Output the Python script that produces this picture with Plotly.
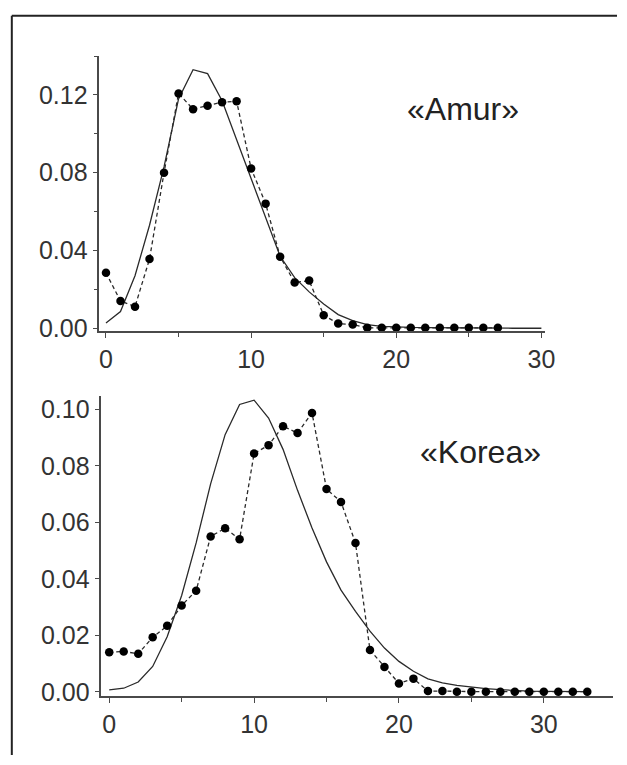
import plotly.graph_objects as go

# ---- data ----
amur_x = list(range(0, 28))
amur_obs = [0.0285, 0.0140, 0.0111, 0.0356, 0.0800, 0.1208, 0.1127, 0.1144, 0.1163, 0.1168,
            0.0822, 0.0641, 0.0368, 0.0235, 0.0245, 0.0067, 0.0024, 0.0019, 0.0002, 0.0002,
            0.0002, 0.0002, 0.0002, 0.0002, 0.0002, 0.0002, 0.0002, 0.0002]
amur_fit_x = list(range(0, 31))
amur_fit = [0.0027, 0.0086, 0.027, 0.053, 0.083, 0.118, 0.133, 0.131, 0.117, 0.097,
            0.077, 0.058, 0.037, 0.026, 0.0187, 0.0125, 0.007, 0.0039, 0.0019, 0.0010,
            0.0006, 0.0004, 0.0003, 0.0002, 0.0001, 0.0001, 0.0001, 0.0, 0.0, 0.0, 0.0]

korea_x = list(range(0, 34))
korea_obs = [0.0140, 0.0143, 0.0135, 0.0193, 0.0234, 0.0306, 0.0358, 0.0550, 0.0579, 0.0540,
             0.0843, 0.0873, 0.0940, 0.0916, 0.0987, 0.0718, 0.0672, 0.0527, 0.0148, 0.0088,
             0.0030, 0.0047, 0.0003, 0.0003, 0.0001, 0.0001, 0.0001, 0.0001, 0.0001, 0.0001,
             0.0001, 0.0001, 0.0001, 0.0001]
korea_fit_x = list(range(0, 34))
korea_fit = [0.0007, 0.0013, 0.0035, 0.009, 0.0195, 0.0341, 0.0527, 0.0736, 0.0910, 0.1017,
             0.1032, 0.0969, 0.0858, 0.0713, 0.0580, 0.0460, 0.0360, 0.0285, 0.0215, 0.0155,
             0.0108, 0.0073, 0.0046, 0.0032, 0.0023, 0.0017, 0.0012, 0.0008, 0.0005, 0.0003,
             0.0002, 0.0001, 0.0001, 0.0001]

labels = ["«Amur»", "«Korea»"]

# ---- figure ----
FONT = "Liberation Sans, Arial, sans-serif"
TXT = "#333333"
AX = "#4a4a4a"

fig = go.Figure()

line_fit = dict(color="#2a2a2a", width=1.3)
line_obs = dict(color="#2a2a2a", width=1.3, dash="4px,3px")
mk = dict(color="black", size=8.5)

fig.add_trace(go.Scatter(x=amur_fit_x, y=amur_fit, mode="lines", line=line_fit,
                         xaxis="x", yaxis="y", showlegend=False))
fig.add_trace(go.Scatter(x=amur_x, y=amur_obs, mode="lines+markers", line=line_obs, marker=mk,
                         xaxis="x", yaxis="y", showlegend=False))
fig.add_trace(go.Scatter(x=korea_fit_x, y=korea_fit, mode="lines", line=line_fit,
                         xaxis="x2", yaxis="y2", showlegend=False))
fig.add_trace(go.Scatter(x=korea_x, y=korea_obs, mode="lines+markers", line=line_obs, marker=mk,
                         xaxis="x2", yaxis="y2", showlegend=False))

W, H = 627, 765

def px(v):
    return v / W

def py(v):
    return 1 - v / H

common = dict(showgrid=False, zeroline=False, showline=True, linecolor=AX, linewidth=1.5,
              ticks="outside", ticklen=5, tickwidth=1.3, tickcolor=AX,
              tickfont=dict(family=FONT, size=25, color=TXT), ticklabelstandoff=0)

fig.update_layout(
    width=W, height=H,
    margin=dict(l=0, r=0, t=0, b=0),
    paper_bgcolor="white", plot_bgcolor="white",
    xaxis=dict(domain=[px(101), px(554)], range=[-0.454, 30.26], anchor="y",
               tickvals=[0, 10, 20, 30],
               minor=dict(dtick=5, tick0=0, ticks="outside", ticklen=4, tickcolor=AX, tickwidth=1.2),
               **common),
    yaxis=dict(domain=[py(335.3), py(55.7)], range=[-0.00167, 0.1401], anchor="x",
               tickvals=[0, 0.04, 0.08, 0.12], tickformat=".2f",
               minor=dict(dtick=0.02, tick0=0, ticks="outside", ticklen=4, tickcolor=AX, tickwidth=1.2),
               **common),
    xaxis2=dict(domain=[px(103), px(622.7)], range=[-0.543, 34.76], anchor="y2",
                tickvals=[0, 10, 20, 30],
                minor=dict(dtick=5, tick0=0, ticks="outside", ticklen=4, tickcolor=AX, tickwidth=1.2),
                **common),
    yaxis2=dict(domain=[py(705.3), py(400.7)], range=[-0.0015, 0.1047], anchor="x2",
                tickvals=[0, 0.02, 0.04, 0.06, 0.08, 0.10], tickformat=".2f",
                **common),
    annotations=[
        dict(text=labels[0], x=24.6, y=0.1129, xref="x", yref="y", showarrow=False,
             xanchor="center", yanchor="middle", font=dict(family=FONT, size=32, color="#222222")),
        dict(text=labels[1], x=25.6, y=0.0849, xref="x2", yref="y2", showarrow=False,
             xanchor="center", yanchor="middle", font=dict(family=FONT, size=32, color="#222222")),
    ],
    shapes=[
        dict(type="line", xref="paper", yref="paper", x0=px(12), x1=1.0, y0=py(15), y1=py(15),
             line=dict(color="#222222", width=2)),
        dict(type="line", xref="paper", yref="paper", x0=px(12), x1=px(12), y0=0, y1=py(15),
             line=dict(color="#222222", width=2)),
    ],
)

fig.write_html(
    "out.html",
    config={"displayModeBar": False},
    post_script=(
        "document.body.style.margin='0px';"
        "document.body.style.overflow='hidden';"
        "document.documentElement.style.overflow='hidden';"
    ),
)
